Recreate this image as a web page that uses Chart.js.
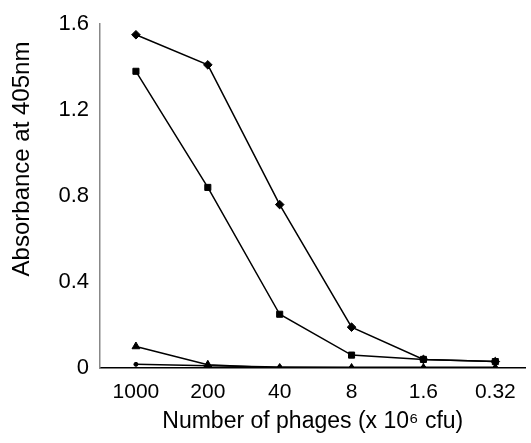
<!DOCTYPE html>
<html>
<head>
<meta charset="utf-8">
<script src="https://cdn.jsdelivr.net/npm/chart.js@4"></script>
<style>
  html, body { margin: 0; padding: 0; background: #fff; }
  #wrap { width: 531px; height: 443px; position: relative; }
</style>
</head>
<body>
<div id="wrap"><canvas id="chart"></canvas></div>
<script>
// phage dilutions (x 10^6 cfu) and absorbance readings
const categories = ['1000', '200', '40', '8', '1.6', '0.32'];
const diamondSeries = [1.55, 1.41, 0.76, 0.19, 0.04, 0.03];
const squareSeries = [1.38, 0.84, 0.25, 0.06, 0.04, 0.03];
const triangleSeries = [0.10, 0.015, 0.0, 0.0, 0.0, 0.0];
const dotSeries = [0.017, 0.01, 0.005, 0.003, 0.003, 0.003];
const yTicks = [0, 0.4, 0.8, 1.2, 1.6];
const yTitle = 'Absorbance at 405nm';

const font = "'Liberation Sans', Arial, sans-serif";

function toPoints(values) {
    return values.map((v, i) => ({ x: i, y: v }));
}

function series(values, style, radius) {
    return {
        data: toPoints(values),
        borderColor: '#000',
        backgroundColor: '#000',
        borderWidth: 1.5,
        pointStyle: style,
        pointRadius: radius,
        pointHoverRadius: radius,
        pointBorderWidth: 1,
        tension: 0
    };
}

// y title sits a bit above the middle of the axis in the original, so draw it by hand
const yTitlePlugin = {
    id: 'yTitle',
    afterDraw(chart) {
        const c = chart.ctx;
        c.save();
        c.translate(29, 159);
        c.rotate(-Math.PI / 2);
        c.font = '24px ' + font;
        c.fillStyle = '#000';
        c.textAlign = 'center';
        c.textBaseline = 'alphabetic';
        c.fillText(yTitle, 0, 0);
        c.restore();
    }
};

const ctx = document.getElementById('chart').getContext('2d');
new Chart(ctx, {
    type: 'line',
    data: {
        datasets: [
            series(dotSeries, 'circle', 2),
            series(triangleSeries, 'triangle', 4.5),
            series(squareSeries, 'rect', 4.3),
            series(diamondSeries, 'rectRot', 4.3)
        ]
    },
    options: {
        responsive: true,
        maintainAspectRatio: false,
        animation: false,
        layout: { padding: { top: 24, right: 0, left: 0, bottom: 0 } },
        plugins: { legend: { display: false }, tooltip: { enabled: false } },
        scales: {
            x: {
                type: 'linear',
                min: -0.5,
                max: 5.42,
                afterBuildTicks: (axis) => {
                    axis.ticks = categories.map((_, i) => ({ value: i }));
                },
                afterFit: (axis) => { axis.height = 75; },
                grid: { display: false },
                border: { display: true, color: '#000', width: 1.5 },
                ticks: {
                    color: '#000',
                    font: { family: font, size: 21 },
                    padding: 4,
                    maxRotation: 0,
                    autoSkip: false,
                    callback: (v) => categories[v]
                },
                title: {
                    display: true,
                    text: 'Number of phages (x 10\u2076 cfu)',
                    color: '#000',
                    font: { family: font, size: 23 },
                    padding: { top: 0, bottom: 8 }
                }
            },
            y: {
                min: 0,
                max: 1.6,
                afterBuildTicks: (axis) => {
                    axis.ticks = yTicks.map(v => ({ value: v }));
                },
                afterFit: (axis) => { axis.width = 100; },
                grid: { display: false },
                border: { display: true, color: '#888', width: 1.5 },
                ticks: {
                    color: '#000',
                    font: { family: font, size: 22 },
                    padding: 3,
                    callback: (v) => String(v)
                }
            }
        }
    },
    plugins: [yTitlePlugin]
});
</script>
</body>
</html>
